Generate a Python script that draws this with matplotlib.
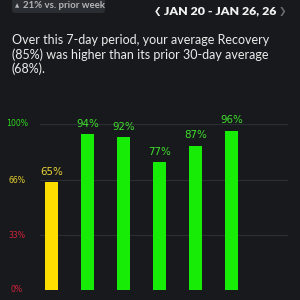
import numpy as np
import matplotlib.pyplot as plt
import matplotlib.transforms as mtransforms
from matplotlib.patches import FancyBboxPatch

# data
days = [0, 1, 2, 3, 4, 5]
recovery = [65, 94, 92, 77, 87, 96]
tick_vals = [0, 33, 66, 100]
tick_labels = ['0%', '33%', '66%', '100%']
tick_colors = ['#d3243c', '#d3243c', '#e6cf2e', '#2fd81f']

bg = '#17191c'
green = '#16ec06'
yellow = '#ffde00'

def bar_color(v):
    return green if v >= 67 else (yellow if v >= 34 else '#ff0026')

def label_color(v):
    return '#3fe02c' if v >= 67 else ('#ecd43a' if v >= 34 else '#e0203a')

fig = plt.figure(figsize=(3, 3), dpi=100, facecolor=bg)

# header chip
chip = FancyBboxPatch((12/300, 1 - 13/300), 93/300, 20/300,
                      boxstyle='round,pad=0,rounding_size=0.01',
                      transform=fig.transFigure, facecolor='#2a2d31', edgecolor='none')
fig.patches.append(chip)
fig.text(15/300, 1 - 6/300, '\u25b2', color='#b4b6b8', fontsize=4,
         family='DejaVu Sans', va='center', ha='left')
fig.text(23/300, 1 - 6/300, '21% vs. prior week', color='#b4b6b8', fontsize=6.9,
         family='Lato', fontweight='bold', va='center', ha='left')
fig.text(154/300, 1 - 11/300, '\u276e', color='#f2f2f2', fontsize=6.5,
         family='DejaVu Sans', fontweight='bold', va='center', ha='left')
fig.text(164/300, 1 - 11/300, 'JAN 20 - JAN 26, 26', color='#f2f2f2', fontsize=8.9,
         family='Lato', fontweight='heavy', va='center', ha='left')
fig.text(279/300, 1 - 11/300, '\u276f', color='#6a6c70', fontsize=6.5,
         family='DejaVu Sans', fontweight='bold', va='center', ha='left')

# summary paragraph
fig.text(12/300, 1 - 34/300,
         'Over this 7-day period, your average Recovery\n(85%) was higher than its prior 30-day average\n(68%).',
         color='#ececec', fontsize=9.0, family='Lato', va='top', ha='left',
         linespacing=1.2)

ax = fig.add_axes([40/300, 10/300, 248/300, 166/300])
ax.set_facecolor(bg)
ax.bar(days, recovery, width=0.35, color=[bar_color(v) for v in recovery],
       zorder=3)
for d, v in zip(days, recovery):
    ax.annotate(f'{v}%', (d, v), xytext=(0, 5.3), textcoords='offset points',
                ha='center', va='baseline', color=label_color(v), fontsize=7.4,
                family='DejaVu Sans', annotation_clip=False)

ax.set_xlim(-0.32, 6.57)
ax.set_ylim(0, 100)
for t in tick_vals:
    ax.axhline(t, color='#2b2e32', lw=0.8, zorder=1)

trans = mtransforms.blended_transform_factory(fig.transFigure, ax.transData)
for t, lab, c in zip(tick_vals, tick_labels, tick_colors):
    ax.text(17/300, t, lab, transform=trans, ha='center', va='center',
            color=c, fontsize=5.6, family='DejaVu Sans', clip_on=False)

ax.set_xticks([])
ax.set_yticks([])
for s in ax.spines.values():
    s.set_visible(False)

fig.savefig('out.png', dpi=100, facecolor=bg)
